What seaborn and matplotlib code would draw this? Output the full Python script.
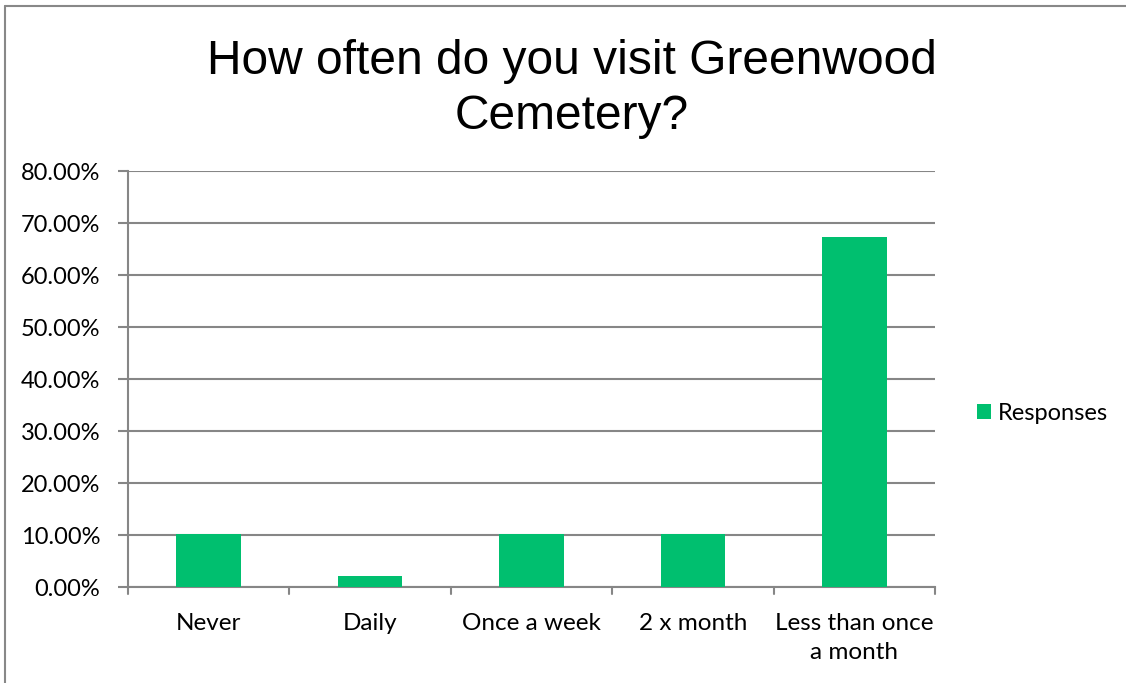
import matplotlib
matplotlib.use("Agg")
import matplotlib.pyplot as plt
import seaborn as sns
import pandas as pd
from matplotlib.ticker import FuncFormatter, MultipleLocator
from matplotlib.lines import Line2D
from matplotlib.patches import Patch

categories = ["Never", "Daily", "Once a week", "2 x month", "Less than once\na month"]
values = [10.20, 2.04, 10.20, 10.20, 67.35]
series_name = "Responses"
title = "How often do you visit Greenwood\nCemetery?"

sns.set_theme(style="white")
plt.rcParams['font.family'] = ['Lato', 'DejaVu Sans']
plt.rcParams['text.color'] = 'black'

df = pd.DataFrame({"cat": categories, "val": values})

fig = plt.figure(figsize=(11.26, 6.83), dpi=100)
ax = fig.add_axes([128/1126, 96/683, 807/1126, 416/683])

sns.barplot(data=df, x="cat", y="val", color="#00BF6F", width=0.4,
            saturation=1, ax=ax, zorder=3, linewidth=0)

ax.set_ylim(0, 80)
ax.set_xlim(-0.5, len(categories) - 0.5)
ax.yaxis.set_major_locator(MultipleLocator(10))
ax.yaxis.set_major_formatter(FuncFormatter(lambda v, p: f"{v:.2f}%"))
ax.grid(axis="y", color="#868686", linewidth=1.5, zorder=0)
ax.set_axisbelow(True)
ax.set_xlabel("")
ax.set_ylabel("")

for s in ["top", "right"]:
    ax.spines[s].set_visible(False)
for s in ["left", "bottom"]:
    ax.spines[s].set_color("#868686")
    ax.spines[s].set_linewidth(1.5)

ax.tick_params(axis="y", left=True, length=7, width=1.5, color="#868686",
               labelsize=17, pad=13, labelcolor="black")
ax.set_xticks(range(len(categories)))
ax.set_xticklabels(categories, linespacing=1.45)
ax.tick_params(axis="x", bottom=False, labelsize=17.5, pad=13, labelcolor="black")
# category boundary ticks
for b in [i - 0.5 for i in range(len(categories) + 1)]:
    ax.plot([b, b], [0, -1.35], color="#868686", lw=1.5, clip_on=False, zorder=4)

fig.text(0.508, 1 - 89/683, title, ha="center", va="center", fontsize=34.5,
         family=["Liberation Sans", "DejaVu Sans"], linespacing=1.3, color="black")

leg_handle = Patch(facecolor="#00BF6F", edgecolor="none")
fig.legend([leg_handle], [series_name], loc="center left",
           bbox_to_anchor=(977/1126, 1 - 413/683), frameon=False,
           borderpad=0, borderaxespad=0,
           fontsize=17, handlelength=0.6, handleheight=0.6, handletextpad=0.3,
           labelcolor="black")

# outer border lines (chart frame)
fig.add_artist(Line2D([5/1126, 5/1126], [0, 1 - 6/683], color="#888888", lw=1.5,
                      transform=fig.transFigure))
fig.add_artist(Line2D([5/1126, 1], [1 - 6/683, 1 - 6/683], color="#888888", lw=1.5,
                      transform=fig.transFigure))

fig.savefig("out.png", dpi=100)
